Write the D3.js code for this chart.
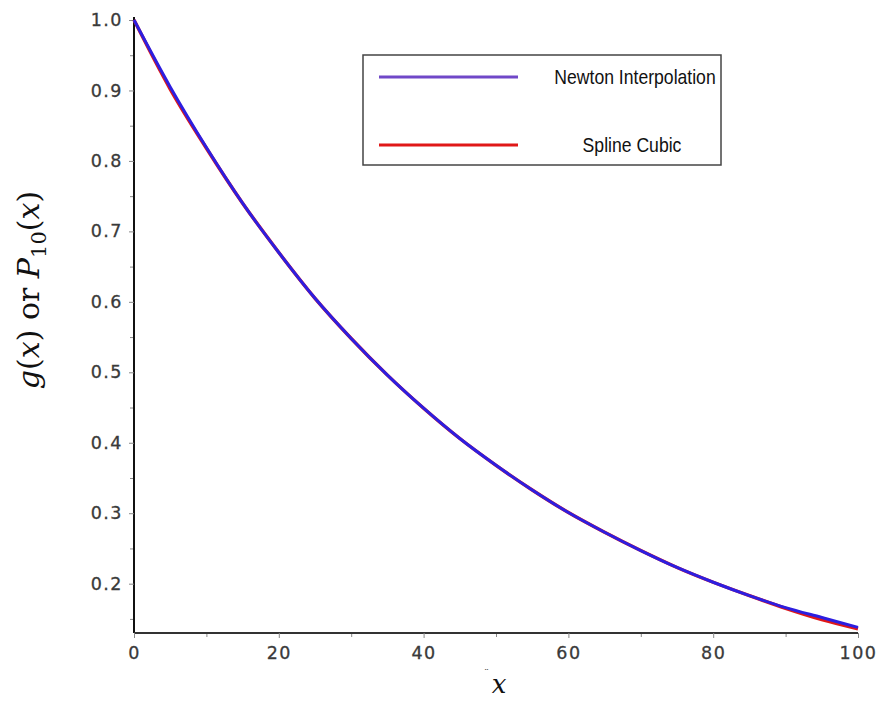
<!DOCTYPE html>
<html>
<head>
<meta charset="utf-8">
<script src="https://cdn.jsdelivr.net/npm/d3@7"></script>
<style>
  body { margin: 0; background: #fff; }
  .tick text { font-family: "DejaVu Sans", Verdana, sans-serif; font-size: 17.5px; fill: #3a3a3a; letter-spacing: 1.5px; stroke: #3a3a3a; stroke-width: 0.3px; }
</style>
</head>
<body>
<div id="chart"></div>
<script>
// values
var xs = [0, 5, 10, 15, 20, 25, 30, 35, 40, 45, 50, 55, 60, 65, 70, 75, 80, 85, 90, 95, 100];
var spline = [1.000, 0.902, 0.818, 0.740, 0.670, 0.605, 0.548, 0.496, 0.449, 0.406, 0.368,
              0.333, 0.301, 0.273, 0.247, 0.223, 0.202, 0.183, 0.165, 0.149, 0.136];
var newton = [1.000, 0.905, 0.819, 0.740, 0.670, 0.605, 0.548, 0.496, 0.449, 0.406, 0.368,
              0.333, 0.301, 0.273, 0.247, 0.223, 0.202, 0.183, 0.166, 0.152, 0.138];
var xTicks = [0, 20, 40, 60, 80, 100];
var yTicks = [0.2, 0.3, 0.4, 0.5, 0.6, 0.7, 0.8, 0.9, 1.0];
var legendNames = ["Newton Interpolation", "Spline Cubic"];
var legendColors = ["#7048c8", "#e01818"];

var W = 880, H = 702;
var margin = {top: 20, right: 22, bottom: 69, left: 134};

var svg = d3.select("#chart").append("svg")
    .attr("width", W)
    .attr("height", H);

var x = d3.scaleLinear().domain([0, 100]).range([margin.left, W - margin.right]);
var y = d3.scaleLinear().domain([0.13, 1.0]).range([H - margin.bottom, margin.top]);

// minor ticks
svg.append("g")
    .attr("transform", "translate(" + margin.left + ",0)")
    .call(d3.axisLeft(y).tickValues(d3.range(0.15, 1.0, 0.1)).tickSize(4).tickFormat(""))
    .call(g => g.select(".domain").remove())
    .selectAll("line").attr("stroke", "#888");
svg.append("g")
    .attr("transform", "translate(0," + (H - margin.bottom) + ")")
    .call(d3.axisBottom(x).tickValues(d3.range(10, 100, 20)).tickSize(4).tickFormat(""))
    .call(g => g.select(".domain").remove())
    .selectAll("line").attr("stroke", "#888");

// y axis
var yAxis = svg.append("g")
    .attr("transform", "translate(" + margin.left + ",0)")
    .call(d3.axisLeft(y).tickValues(yTicks).tickSize(5).tickPadding(6).tickFormat(d3.format(".1f")));
yAxis.select(".domain").attr("stroke", "#111").attr("stroke-width", 2)
    .attr("d", "M0," + (H - margin.bottom) + "V" + (margin.top - 3));
yAxis.selectAll(".tick line").attr("stroke", "#888");

// x axis
var xAxis = svg.append("g")
    .attr("transform", "translate(0," + (H - margin.bottom) + ")")
    .call(d3.axisBottom(x).tickValues(xTicks).tickSize(5).tickPadding(9));
xAxis.select(".domain").attr("stroke", "#333").attr("stroke-width", 2)
    .attr("d", "M" + margin.left + ",0H" + (W - margin.right));
xAxis.selectAll(".tick line").attr("stroke", "#888");

// curves
var line = d3.line()
    .x(function(d, i) { return x(xs[i]); })
    .y(function(d) { return y(d); })
    .curve(d3.curveMonotoneX);

svg.append("path").datum(spline)
    .attr("fill", "none").attr("stroke", "#e01818").attr("stroke-width", 3.4)
    .attr("d", line);
svg.append("path").datum(newton)
    .attr("fill", "none").attr("stroke", "#2d1ee0").attr("stroke-width", 3)
    .attr("d", line);

// legend
var lg = svg.append("g");
lg.append("rect")
    .attr("x", 363).attr("y", 55).attr("width", 358).attr("height", 110)
    .attr("fill", "#fff").attr("stroke", "#444").attr("stroke-width", 1.5);
legendNames.forEach(function(name, i) {
  var ly = 77 + i * 68;
  lg.append("line")
      .attr("x1", 379).attr("x2", 518).attr("y1", ly).attr("y2", ly)
      .attr("stroke", legendColors[i]).attr("stroke-width", 3.2);
  var cx = i === 0 ? 635 : 632;
  lg.append("text")
      .attr("transform", "translate(" + cx + "," + (ly + 7) + ") scale(0.88,1)")
      .attr("text-anchor", "middle")
      .style("font-family", "'Liberation Sans', Arial, sans-serif")
      .style("font-size", "20px")
      .style("fill", "#111")
      .text(name);
});

// axis titles
var yt = svg.append("text")
    .attr("transform", "translate(39,290) rotate(-90)")
    .attr("text-anchor", "middle")
    .style("font-family", "'DejaVu Serif', 'Liberation Serif', serif")
    .style("font-size", "30px")
    .style("fill", "#111");
yt.append("tspan").style("font-style", "italic").text("g");
yt.append("tspan").text("(");
yt.append("tspan").style("font-style", "italic").text("x");
yt.append("tspan").text(") or ");
yt.append("tspan").style("font-style", "italic").text("P");
yt.append("tspan").attr("dy", 7).style("font-size", "21px").text("10");
yt.append("tspan").attr("dy", -7).text("(");
yt.append("tspan").style("font-style", "italic").text("x");
yt.append("tspan").text(")");

svg.append("text")
    .attr("x", 484).attr("y", 677)
    .style("font-family", "'DejaVu Sans', sans-serif")
    .style("font-size", "10px").style("fill", "#555")
    .text("¨");
svg.append("text")
    .attr("x", 499).attr("y", 693)
    .attr("text-anchor", "middle")
    .style("font-family", "'DejaVu Serif', 'Liberation Serif', serif")
    .style("font-style", "italic")
    .style("font-size", "26px")
    .style("fill", "#111")
    .text("x");
</script>
</body>
</html>
